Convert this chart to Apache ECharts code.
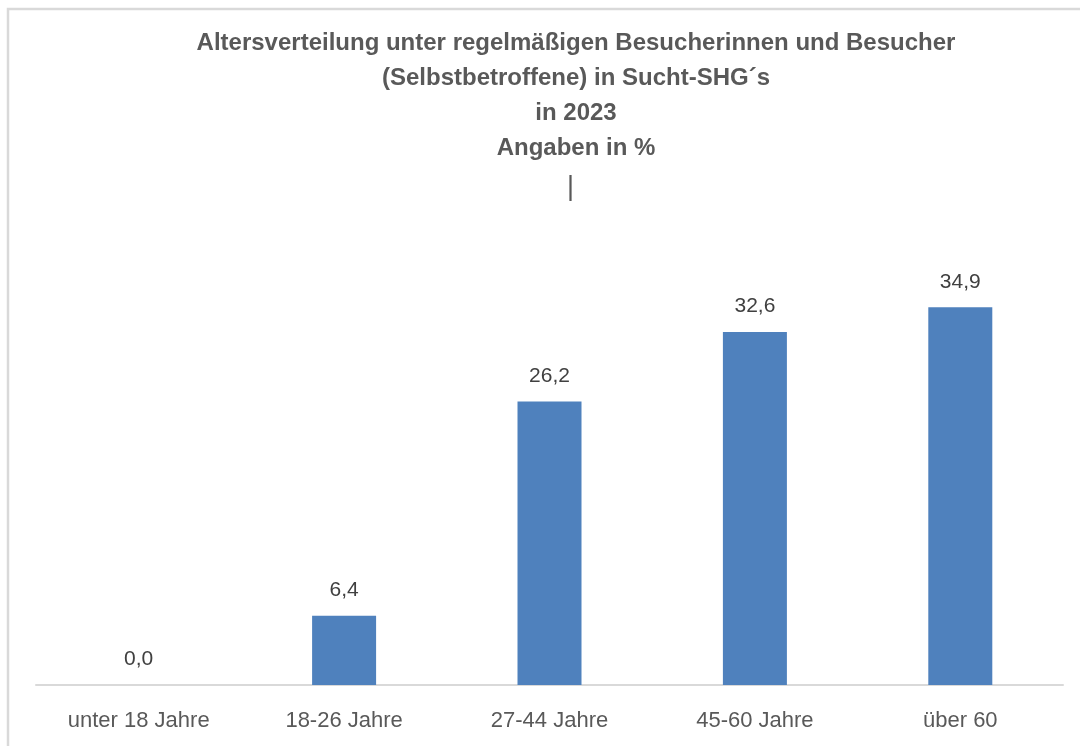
<!DOCTYPE html>
<html>
<head>
<meta charset="utf-8">
<script src="https://cdn.jsdelivr.net/npm/echarts@6/dist/echarts.min.js"></script>
<style>
  html, body { margin: 0; padding: 0; background: #fff; }
  #chart { width: 1080px; height: 746px; }
</style>
</head>
<body>
<div id="chart"></div>
<script>
const categories = ['unter 18 Jahre', '18-26 Jahre', '27-44 Jahre', '45-60 Jahre', 'über 60']
const values = [0.0, 6.4, 26.2, 32.6, 34.9]
const titleLines = [
  'Altersverteilung unter regelmäßigen Besucherinnen und Besucher',
  '(Selbstbetroffene) in Sucht-SHG´s',
  'in 2023',
  'Angaben in %',
]

const font = "'Liberation Sans', sans-serif"

const chart = echarts.init(document.getElementById('chart'))

const option = {
  backgroundColor: '#fff',
  animation: false,
  title: {
    text: titleLines.join('\n'),
    left: 571,
    textAlign: 'center',
    top: 21,
    textStyle: {
      color: '#595959',
      fontSize: 24,
      fontWeight: 'bold',
      fontFamily: font,
      lineHeight: 35,
    },
  },
  graphic: [
    {
      // rahmen, nur oben und links sichtbar
      type: 'rect',
      shape: { x: 8, y: 9, width: 1200, height: 900 },
      style: { fill: 'none', stroke: '#d9d9d9', lineWidth: 2.5 },
      silent: true,
    },
    {
      type: 'text',
      left: 567,
      top: 174,
      style: { text: '|', fill: '#595959', fontSize: 27, fontFamily: font },
    },
  ],
  grid: {
    left: 36,
    right: 17,
    top: 252,
    bottom: 61,
  },
  xAxis: {
    type: 'category',
    data: categories,
    axisLine: { lineStyle: { color: '#d9d9d9', width: 2 } },
    axisTick: { show: false },
    axisLabel: {
      color: '#595959',
      fontSize: 22,
      fontFamily: font,
      margin: 25,
    },
  },
  yAxis: {
    type: 'value',
    min: 0,
    max: 40,
    show: false,
  },
  series: [
    {
      type: 'bar',
      data: values,
      barWidth: 64,
      itemStyle: { color: '#4f81bd' },
      label: {
        show: true,
        position: 'top',
        distance: 15,
        color: '#404040',
        fontSize: 21,
        fontFamily: font,
        formatter: (p) => p.value.toFixed(1).replace('.', ','),
      },
    },
  ],
}

option && chart.setOption(option)
</script>
</body>
</html>
